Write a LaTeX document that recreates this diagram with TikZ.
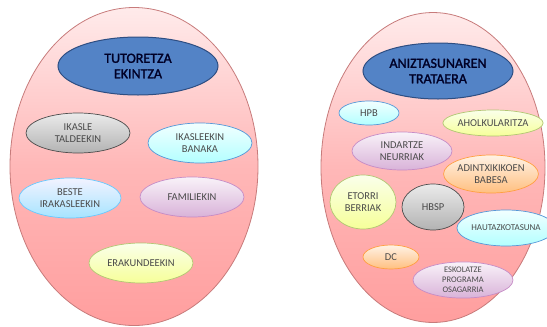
\documentclass[tikz,border=0pt]{standalone}
\usepackage{xcolor}
\usepackage{fontspec}
\setmainfont{Carlito}
\newfontfamily\headfont{Carlito}[FakeBold=1.6]
\usetikzlibrary{shapes.geometric}

\definecolor{pinkedge}{HTML}{C77B7B}
\definecolor{headfill}{HTML}{5383C6}
\definecolor{headedge}{HTML}{2E4E82}
\definecolor{bubtext}{HTML}{4A4A4A}

\begin{document}
\begin{tikzpicture}[x=1pt,y=-1pt,
  bigegg/.style={ellipse, draw=pinkedge, line width=0.8pt, top color=red!8, bottom color=red!38, middle color=red!28},
  headegg/.style={ellipse, draw=headedge, line width=1pt, fill=headfill, align=center, text=black!85!blue,
    font=\headfont\fontsize{14}{15.5}\selectfont, inner sep=0pt},
  bubble/.style={ellipse, line width=0.7pt, align=center, inner sep=0pt,
    font=\fontsize{10.5}{12}\selectfont\color{bubtext}},
  gray/.style={bubble, draw=black!70, top color=black!8, bottom color=black!30},
  cyan/.style={bubble, draw=cyan!60!blue!70, top color=cyan!5, bottom color=cyan!30},
  blue/.style={bubble, draw=blue!35!cyan!60, top color=blue!5, bottom color=blue!30!cyan!35},
  purple/.style={bubble, draw=violet!45, top color=violet!5, bottom color=violet!30},
  green/.style={bubble, draw=lime!60!black!55, top color=lime!8, bottom color=lime!35!yellow!40},
  orange/.style={bubble, draw=orange!75, top color=orange!10, bottom color=orange!50}
]
\useasboundingbox (0,0) rectangle (547,327);

% ezkerreko obaloa
\node[bigegg, minimum width=248, minimum height=318] (bigl) at (134,166.5) {};
\node[headegg, minimum width=160, minimum height=58] (tut) at (138,66) {TUTORETZA\\EKINTZA};
\node[gray, minimum width=104, minimum height=40] (ikt) at (78,133) {IKASLE\\TALDEEKIN};
\node[cyan, minimum width=104, minimum height=40] (ikb) at (200,143) {IKASLEEKIN\\BANAKA};
\node[blue, minimum width=102, minimum height=40] (bes) at (70,198) {BESTE\\IRAKASLEEKIN};
\node[purple, minimum width=104, minimum height=40] (fam) at (192,197) {FAMILIEKIN};
\node[green, minimum width=104, minimum height=40] (era) at (141,263) {ERAKUNDEEKIN};

% eskuineko obaloa
\node[bigegg, minimum width=224, minimum height=310] (bigr) at (433,167.5) {};
\node[headegg, minimum width=150, minimum height=56] (ani) at (438,71) {ANIZTASUNAREN\\TRATAERA};
\node[cyan, minimum width=60, minimum height=24] (hpb) at (369,113) {HPB};
\node[green, minimum width=100, minimum height=26] (aho) at (493,123) {AHOLKULARITZA};
\node[purple, minimum width=100, minimum height=38] (ind) at (402,151) {INDARTZE\\NEURRIAK};
\node[orange, minimum width=94, minimum height=38] (adi) at (491,174) {ADINTXIKIKOEN\\BABESA};
\node[green, minimum width=66, minimum height=54] (eto) at (363,202) {ETORRI\\BERRIAK};
\node[gray, minimum width=62, minimum height=46] (hbsp) at (433,207) {HBSP};
\node[cyan, minimum width=76, minimum height=36, font=\fontsize{9}{10}\selectfont\color{bubtext}] (hau) at (506,228) {HAUTAZKOTASUNA};
\node[orange, minimum width=56, minimum height=24] (dc) at (391,257) {DC};
\node[purple, minimum width=100, minimum height=36, font=\fontsize{8.5}{10}\selectfont\color{bubtext}] (esk) at (463,280) {ESKOLATZE\\PROGRAMA\\OSAGARRIA};
\end{tikzpicture}
\end{document}
